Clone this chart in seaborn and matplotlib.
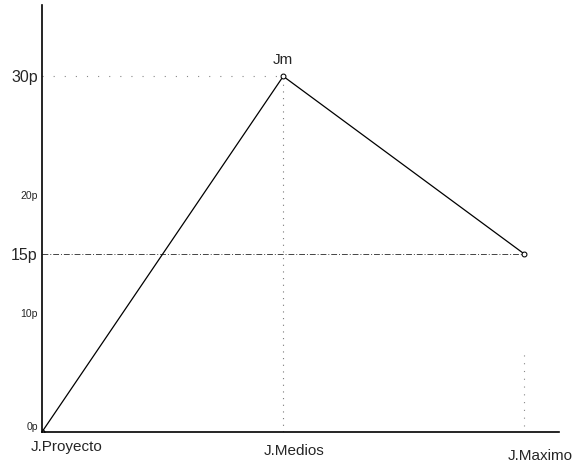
import matplotlib
matplotlib.use("Agg")
import matplotlib.pyplot as plt
import pandas as pd
import seaborn as sns

# data
etapas = ["J.Proyecto", "J.Medios", "J.Maximo"]
pos = [0, 1, 2]
valores = [0, 30, 15]
y_ticks = [0, 10, 15, 20, 30]
y_labels = ["0p", "10p", "15p", "20p", "30p"]
y_big = ["15p", "30p"]

df = pd.DataFrame({"pos": pos, "valor": valores, "etapa": etapas})

sns.set_style("white")
plt.rcParams["font.family"] = ["Liberation Sans", "DejaVu Sans"]

fig = plt.figure(figsize=(5.75, 4.68), dpi=100)
ax = fig.add_axes([0.073, 0.077, 0.90, 0.912])

# guide lines
ax.plot([0, 1], [30, 30], color="#888888", lw=0.8, ls=(0, (1, 9)))
ax.plot([1, 1], [0, 30], color="#777777", lw=0.8, ls=(0, (1, 5)))
ax.plot([0, 2], [15, 15], color="#444444", lw=0.7, ls=(0, (6, 2, 1, 2)))
ax.plot([2, 2], [0.5, 7], color="#888888", lw=0.8, ls=(0, (1, 6)))

sns.lineplot(data=df, x="pos", y="valor", color="black", lw=0.9,
             marker="o", markersize=3.5, markerfacecolor="white",
             markeredgecolor="black", ax=ax)

ax.text(1, 30.8, "Jm", ha="center", va="bottom", fontsize=11)

ax.set_xlim(0, 2.145)
ax.set_ylim(0, 36)
ax.set_xlabel("")
ax.set_ylabel("")

ax.set_yticks(y_ticks)
ax.set_yticklabels(y_labels)
for lab in ax.get_yticklabels():
    lab.set_fontsize(11.5 if lab.get_text() in y_big else 7.5)
    if lab.get_text() == "0p":
        lab.set_verticalalignment("bottom")
ax.tick_params(axis="y", length=0, pad=3)

ax.set_xticks([])
offsets = [(18, -6), (8, -9), (11, -12)]
for x, name, (dx, dy) in zip(pos, etapas, offsets):
    ax.annotate(name, (x, 0), xytext=(dx, dy), textcoords="offset points",
                ha="center", va="top", fontsize=11, annotation_clip=False)

for s in ["top", "right"]:
    ax.spines[s].set_visible(False)
for s in ["left", "bottom"]:
    ax.spines[s].set_color("black")
    ax.spines[s].set_linewidth(1.2)

fig.savefig("out.png", dpi=100)
